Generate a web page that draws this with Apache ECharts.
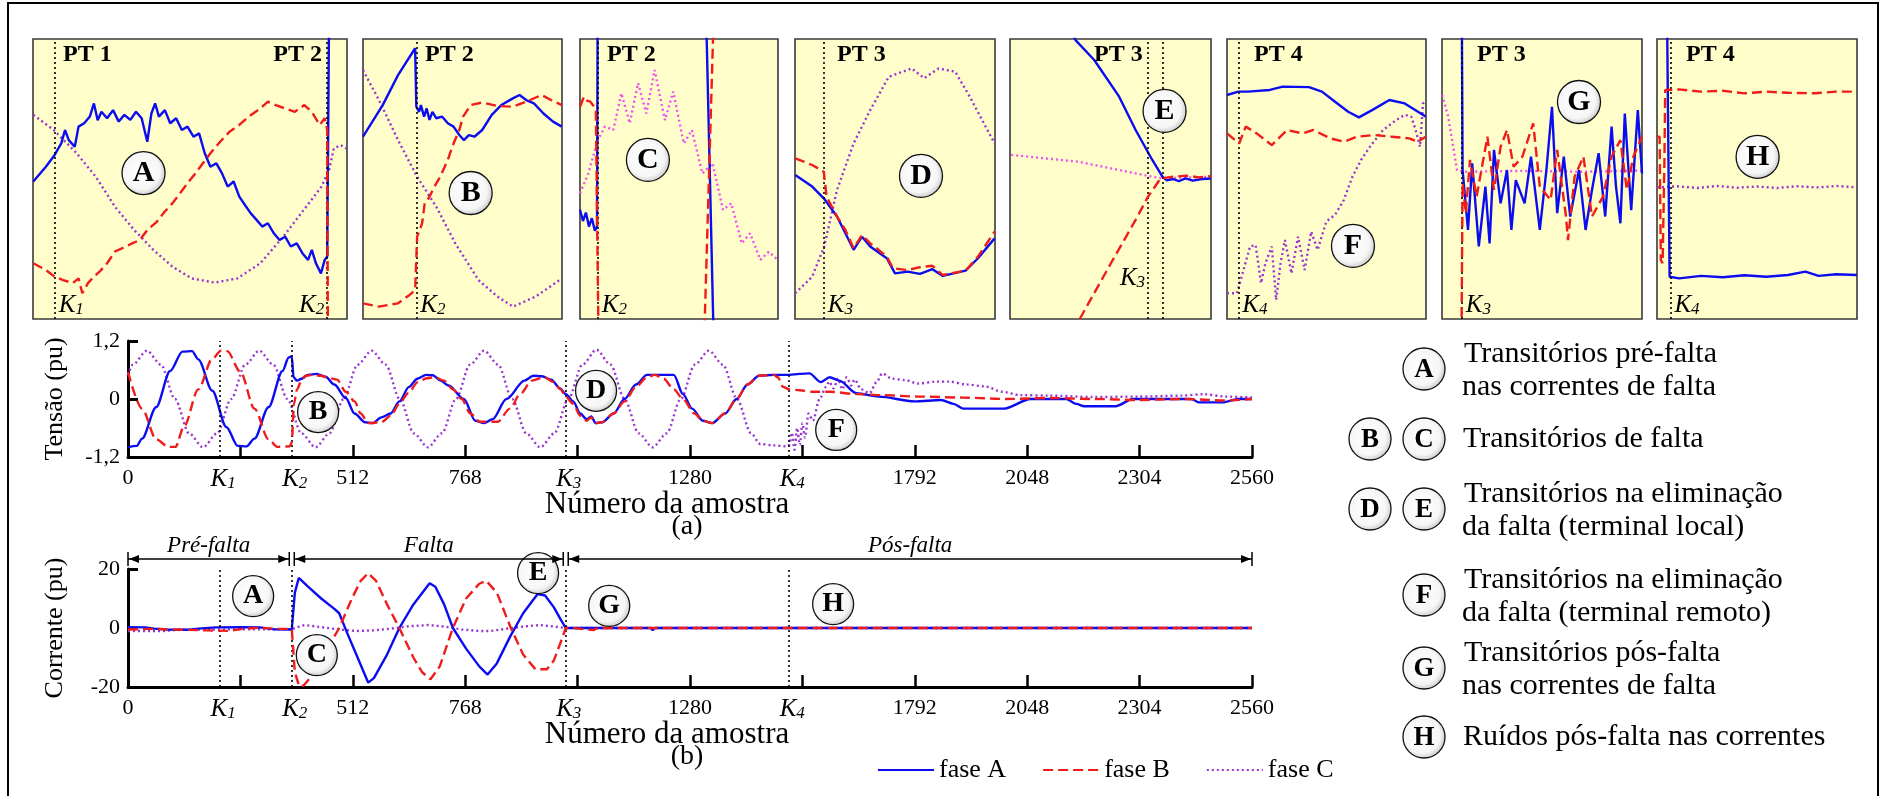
<!DOCTYPE html>
<html>
<head>
<meta charset="utf-8">
<script src="https://cdn.jsdelivr.net/npm/echarts@6/dist/echarts.min.js"></script>
<style>
  html, body { margin: 0; padding: 0; background: #fff; }
  #chart { width: 1883px; height: 796px; }
</style>
</head>
<body>
<div id="chart"></div>
<script>
// ---------------------------------------------------------------
// Data: sample index (0..2560) and per-unit values
// ---------------------------------------------------------------
const K = { K1: 210, K2: 373, K3: 997, K4: 1506 };
const xTickLabels = [0, 512, 768, 1280, 1792, 2048, 2304, 2560];

// Tensão (pu) – fases A, B, C
const vA = [[0,-1.0],[20,-0.97],[32,-0.82],[64,-0.17],[96,0.58],[124,0.98],[146,0.99],[160,0.82],[192,0.17],[224,-0.58],[250,-0.97],[270,-0.98],[288,-0.82],[320,-0.17],[352,0.58],[366,0.86],[373,0.88],
  [377,0.45],[385,0.38],[395,0.42],[410,0.5],[430,0.52],[450,0.46],[470,0.3],[496,0.02],[516,-0.3],[540,-0.48],[557,-0.5],[577,-0.38],[598,-0.3],[618,-0.05],[640,0.25],[659,0.42],[679,0.5],[694,0.49],[712,0.38],[730,0.28],[765,0.0],[791,-0.45],[811,-0.5],[830,-0.42],[862,0.0],[903,0.38],[923,0.48],[943,0.47],[964,0.4],[984,0.22],[997,0.1],
  [1014,-0.05],[1030,-0.3],[1045,-0.42],[1055,-0.36],[1065,-0.5],[1080,-0.48],[1106,-0.3],[1131,0.0],[1157,0.3],[1182,0.5],[1243,0.5],[1264,0.1],[1285,-0.2],[1309,-0.45],[1330,-0.5],[1360,-0.3],[1386,0.0],[1411,0.3],[1437,0.48],[1471,0.5],[1506,0.5],[1530,0.52],[1552,0.53],[1578,0.35],[1598,0.45],[1620,0.38],[1659,0.12],[1710,0.05],[1791,-0.05],[1852,-0.02],[1880,-0.1],[1903,-0.2],[1994,-0.2],[2056,0.0],[2137,0.0],[2160,-0.1],[2178,-0.15],[2249,-0.15],[2289,0.0],[2422,0.0],[2440,-0.07],[2493,-0.07],[2530,0.0],[2560,0.0]];
const vB = [[0,0.56],[32,-0.2],[64,-0.83],[92,-0.99],[108,-0.99],[128,-0.56],[160,0.2],[192,0.83],[212,1.0],[226,0.99],[256,0.56],[288,-0.2],[320,-0.83],[340,-0.99],[368,-0.98],[373,-0.9],
  [378,-0.1],[385,0.2],[395,0.38],[404,0.48],[420,0.5],[440,0.48],[460,0.43],[476,0.4],[496,0.15],[516,-0.05],[530,-0.3],[547,-0.5],[577,-0.48],[598,-0.35],[618,-0.1],[638,0.12],[660,0.35],[680,0.43],[699,0.45],[720,0.38],[740,0.2],[760,0.0],[780,-0.3],[801,-0.47],[842,-0.47],[870,-0.2],[893,0.1],[920,0.38],[948,0.45],[970,0.35],[985,0.2],[997,0.05],
  [1014,-0.1],[1030,-0.35],[1045,-0.45],[1055,-0.38],[1065,-0.5],[1080,-0.48],[1106,-0.3],[1131,-0.05],[1157,0.25],[1182,0.45],[1200,0.5],[1220,0.42],[1243,0.2],[1264,0.0],[1290,-0.3],[1309,-0.45],[1330,-0.5],[1360,-0.3],[1386,0.0],[1411,0.3],[1437,0.48],[1471,0.5],[1480,0.45],[1492,0.25],[1506,0.2],[1530,0.18],[1560,0.15],[1600,0.15],[1660,0.1],[1720,0.08],[1800,0.05],[1900,0.03],[2000,0.0],[2100,0.02],[2200,0.0],[2300,-0.02],[2400,0.0],[2500,-0.03],[2560,0.0]];
const vC = [[0,0.49],[11,0.71],[43,1.0],[75,0.71],[107,0.0],[139,-0.71],[171,-1.0],[203,-0.71],[235,0.0],[267,0.71],[299,1.0],[331,0.71],[363,0.0],[395,-0.71],[427,-1.0],[459,-0.71],[491,0.0],[523,0.71],[555,1.0],[587,0.71],[619,0.0],[651,-0.71],[683,-1.0],[715,-0.71],[747,0.0],[779,0.71],[811,1.0],[843,0.71],[875,0.0],[907,-0.71],[939,-1.0],[971,-0.71],[1003,0.0],[1035,0.71],[1067,1.02],[1099,0.71],[1131,0.0],[1163,-0.71],[1195,-1.0],[1227,-0.71],[1259,0.0],[1291,0.71],[1323,1.0],[1355,0.71],[1387,0.0],[1419,-0.71],[1440,-0.93],[1470,-0.96],[1500,-0.98],
  [1506,-0.95],[1512,-0.7],[1518,-1.05],[1524,-0.6],[1530,-0.95],[1536,-0.5],[1542,-0.8],[1550,-0.3],[1560,-0.45],[1575,0.0],[1590,0.25],[1597,0.36],[1607,0.22],[1617,0.42],[1627,0.2],[1637,0.45],[1647,0.28],[1655,0.4],[1670,0.2],[1689,0.12],[1705,0.35],[1718,0.53],[1740,0.42],[1770,0.39],[1800,0.32],[1840,0.36],[1871,0.36],[1910,0.3],[1952,0.26],[1990,0.15],[2033,0.08],[2100,0.07],[2200,0.04],[2300,0.05],[2400,0.07],[2450,0.1],[2500,0.05],[2560,0.03]];

// Corrente (pu) – fases A, B, C
const iA = [[0,0.3],[40,0.2],[60,-0.2],[90,-0.5],[140,-0.6],[160,-0.2],[200,0.2],[260,0.3],[300,0.2],[330,-0.4],[373,-0.5],[380,12],[389,17],[410,14],[440,10],[470,6.5],[481,5],[500,-2],[520,-9],[547,-18.5],[560,-17],[590,-9],[618,0],[650,8],[687,15.2],[700,14],[720,8],[740,0],[770,-7],[800,-13],[819,-15.8],[840,-12],[870,-3],[900,5],[933,11.5],[950,11],[970,7],[985,3],[997,0],[1010,0],[1190,0],[1195,-0.7],[1200,0],[2560,0]];
const iB = [[0,-0.5],[60,-0.3],[100,-0.5],[180,-0.8],[230,-1.0],[260,-0.3],[300,0.1],[340,-0.3],[373,-0.3],[380,-15],[390,-19.8],[400,-19.5],[420,-16],[450,-8],[481,0],[510,10],[530,16],[547,18.6],[565,16],[590,8],[618,0],[650,-10],[670,-15],[689,-17.4],[710,-13],[740,0],[770,10],[800,15],[816,16],[840,12],[872,0],[900,-9],[928,-14],[954,-14],[970,-11],[985,-5],[997,0],[1010,0],[1060,-0.7],[1070,0],[2560,0]];
const iC = [[0,-1.0],[80,-1.0],[120,-0.6],[200,-0.5],[300,-0.4],[373,-0.4],[390,0.5],[402,1.0],[440,0.3],[480,-0.5],[520,-1.0],[560,-0.8],[600,-0.2],[640,0.6],[684,1.0],[720,0.5],[760,-0.5],[800,-1.0],[826,-1.0],[860,-0.3],[900,0.5],[938,1.0],[970,0.5],[997,0],[2560,0]];

// Trechos do ensaio
const phases = [['Pré-falta', 0, K.K2], ['Falta', K.K2, K.K3], ['Pós-falta', K.K3, 2560]];

// Marcadores nos gráficos principais: [letra, amostra, valor]
const markersV = [['B', 433, -0.27], ['D', 1066, 0.17], ['F', 1613, -0.64]];
const markersI = [['A', 285, 10.8], ['C', 430, -9.2], ['E', 934, 18.6], ['G', 1096, 7.5], ['H', 1606, 8.1]];

// Detalhes ampliados (escala local 0..100 em cada janela)
const p1A = [[0.1,49.1],[4.1,54.4],[6.9,58.6],[7.8,60.4],[9,62.7],[10.2,67.5],[11.4,63.9],[13.3,61.5],[14.5,68.7],[16.3,69.9],[18.1,72.3],[19.4,77],[20.6,71],[21.8,74],[23.6,71.7],[25.5,74.6],[27.3,70.5],[29.1,72.9],[31,71.1],[32.8,74],[34.6,71.7],[36.4,63.3],[37.7,73.4],[38.9,77],[40.1,72.3],[42,74.6],[43.7,69.9],[45.6,71.7],[47.4,67.5],[49.2,68.7],[51.1,65.1],[52.9,66.3],[54.7,59.2],[56.5,54.4],[58.4,55.6],[60.2,52],[62,47.3],[63.9,49.1],[65.7,43.7],[67.5,40.7],[69.3,37.8],[71.2,35.4],[73,33],[74.8,34.2],[76.7,30.6],[78.5,28.2],[80.3,29.4],[82.1,25.9],[84,27],[85.8,23.5],[87.6,21.1],[88.8,24.7],[90.1,19.9],[91.7,16.3],[92.9,21.1],[93.7,22.3],[94.3,110]];
const p1B = [[0.1,19.9],[4.1,17.5],[6.9,15.1],[9.6,13.9],[12.7,12.8],[14.5,14.5],[15.7,9.2],[17.5,12.8],[19.4,15.1],[21.2,16.9],[23.6,19.9],[26.1,24.1],[28.5,25.3],[31.6,27],[34,28.2],[36.4,31.8],[39.5,34.8],[41.9,38.3],[44.4,41.3],[46.8,44.9],[49.2,48.5],[51.7,52],[54.1,55.6],[56.5,59.2],[59.6,63.3],[62.6,66.9],[65.7,69.3],[68.7,72.3],[72.4,75.2],[74.8,77.6],[77.3,76.4],[80.3,75.2],[83.4,74],[86.4,76.4],[88.8,74],[91.3,69.3],[92.9,71.7],[93.7,67.5],[93.9,-5]];
const p1C = [[0.1,72.9],[6.6,67.5],[13.9,59.2],[20,50.8],[26.1,40.1],[32.2,31.8],[38.3,24.7],[44.4,18.7],[50.5,14.5],[57.8,13],[65.1,14.5],[72.4,19.9],[79.7,29.4],[87,40.1],[91.9,47.3],[94.3,53.2],[95.8,60.9],[98,62.1],[99.8,60.9]];

const p2A = [[0,65.1],[9.9,76.4],[17.6,87.1],[26.2,96.7],[26.8,75.8],[28.2,74],[29.1,76.4],[30.7,72.3],[32,75.2],[33.4,71.1],[34.9,74],[36.8,71.7],[39.7,72.3],[42.6,69.9],[45.5,68.7],[48.4,65.7],[50.7,63.9],[53.2,65.7],[56,65.1],[59.9,67.5],[64.7,72.9],[69.5,76.4],[75.3,78.8],[78.7,80],[82,78.2],[85.9,77],[90.7,73.4],[95.5,70.5],[99.9,68.7]];
const p2B = [[0,5.6],[8,4.4],[17.6,5.6],[23.4,8.6],[26.2,10.4],[27.2,29.4],[28.5,31.8],[29.7,34.2],[31,41.3],[33,43.1],[35.9,47.3],[38.8,50.8],[42.6,56.8],[45.5,62.7],[48.4,67.5],[50.3,72.3],[54.1,76.4],[59.9,77.3],[67.6,76.1],[75.3,75.8],[82,77.6],[89.7,80],[94.5,78.2],[99.9,76.4]];
const p2C = [[0,88.9],[8,78.2],[17.6,63.9],[27.2,50.8],[36.8,40.1],[46.4,27],[58,13.9],[67.6,8],[75.3,4.4],[86.8,8],[99.9,14.5]];

const p3A = [[0,39],[1.5,35],[3,38],[4.5,33],[6,36],[7.5,31.5],[8.6,33],[9,130],[63,130],[67.6,-10]];
const p3B = [[0,75.8],[2,79.4],[3.5,78],[5.2,77.6],[7,76],[8,74.6],[9.4,-10],[62.6,-10],[67.6,110]];
const p3C = [[0,44.9],[4.2,52],[9,63.9],[12.6,68.7],[16.8,67.5],[20.9,80.6],[25.1,69.9],[29.3,84.2],[33.5,73.4],[37.7,88.9],[42.9,71],[47.1,81.2],[52.4,62.7],[56.5,67.5],[61.8,52],[67,55.6],[72.2,39],[76.4,41.3],[81.7,27],[85.9,30.6],[91.1,21.1],[95.3,24],[100,21.1]];

const p4A = [[0.1,51.4],[8.6,47.3],[14.4,43.1],[21,36.6],[25.2,30.6],[29.3,24.7],[33.5,29.4],[37.6,25.9],[45.9,21.7],[50,16.3],[56.3,16.9],[62.5,16.1],[68.7,17.8],[73.9,15.4],[85.3,17.3],[91.5,21.7],[99.8,28.8]];
const p4B = [[0.1,57.4],[8.6,55],[14.4,52.6],[15.8,43.7],[21,36.6],[25.2,31.8],[29.3,25.3],[33.5,30],[37.6,27],[39.7,25.9],[45.9,22.3],[49,18.1],[56.3,17.5],[62.5,18.5],[68.7,19],[73.9,15.7],[85.3,17.3],[91.5,22.3],[99.8,31.2]];
const p4C = [[0.1,9.2],[8.6,15.1],[14.6,25.9],[21,46.1],[29.3,62.7],[37.6,74.6],[46.9,86.5],[58.3,89.5],[64.6,86],[71.8,89.5],[80.1,88.3],[87.4,79.4],[93.6,71],[99.8,62.7]];

const p5A = [[30.5,103],[32.6,99.6],[41.9,92.5],[54.3,79.4],[62.5,67.5],[70.8,56.8],[75.9,50.8],[78,49.5],[81.1,50],[84,49.2],[87.3,50.2],[91,49.4],[95.5,50],[100,50.2]];
const p5B = [[34.7,0],[50.2,19.9],[62.5,35.4],[68.7,43.7],[74.9,50.2],[81.1,50.8],[88,51.2],[94,50.6],[100,51]];
const p5C = [[0.6,58.6],[33.7,56.2],[54.3,53.2],[70.8,50.8],[75.9,50.2],[100,50.8]];

const p6A = [[0,80],[5.7,81.2],[10.5,81.2],[21.5,81.8],[28,83],[41.2,82.8],[47.7,81.2],[54.3,77.6],[60.9,74],[66.3,72],[72.9,74.6],[81.6,78.2],[89.3,77],[99.8,72.3]];
const p6B = [[0,66.3],[6.1,62.7],[9.4,68.7],[14.9,66.3],[22.5,62.1],[30.2,67.5],[37.9,66.3],[43.3,67.5],[52.1,64.5],[58.7,63.3],[65.2,65.1],[74,65.7],[82.7,65.1],[91.5,64.5],[95.9,63.3],[99.8,65.1]];
const p6C = [[0,9.2],[5,9.2],[8.3,17.5],[11.6,25.9],[14.4,26.4],[17.1,12.8],[19.3,19.9],[22.5,25.9],[24.7,6.8],[26.9,19.9],[29.1,28.2],[32.4,16.3],[35.7,29.4],[39,17.5],[42.3,31.2],[45.5,24.7],[49.9,34.8],[54.3,37.2],[58.7,42.5],[63,50.8],[67.4,56.8],[71.8,61.5],[78.4,67.5],[84.9,71],[89.3,72.9],[92.6,72.3],[94.8,67.5],[97,61.5],[98.5,77],[99.8,77.6]];

const p7A = [[9.9,110],[10.3,53.2],[13,31.8],[15.1,55.6],[18.4,25.9],[21.7,47.3],[23.8,27],[26,60.4],[29.3,41.3],[32.5,53.2],[34.7,31.8],[36.9,49.6],[41.3,41.3],[44.5,58],[48.9,31.8],[52.2,53.2],[55,75.8],[57.6,37.8],[60.9,58],[64.1,36.6],[68.5,53.2],[71.8,31.8],[75,46.1],[78.3,59.2],[81.6,36.6],[84.8,68.7],[87,47.3],[89.2,34.2],[91.4,73.4],[94.6,38.9],[97.9,74.6],[100,52]];
const p7B = [[9.7,-10],[10.3,48.5],[11.9,37.8],[14,56.8],[17.3,43.7],[22.7,65.1],[26,46.1],[29.3,61.5],[32.5,67.5],[35.8,54.4],[40.2,58],[45.6,69.9],[48.9,47.3],[54.3,42.5],[57.6,60.4],[62,36.6],[63,28.2],[66.3,50.8],[70.7,58],[75,36.6],[80.5,43.7],[84.8,58],[89.2,63.9],[92.4,46.1],[95.7,58],[100,65.1]];
const p7C = [[0.1,80],[3.1,72.3],[7.5,53.2],[10.8,52.6],[40,52.9],[70,52.6],[100,53]];

const p8A = [[5,110],[6.3,15.1],[11.1,14.5],[22,15.4],[32.9,14.9],[43.8,15.6],[54.6,15.1],[65.5,15.7],[74.2,16.9],[80.8,15.4],[89.5,16],[99.9,15.7]];
const p8B = [[0,65.1],[1.3,65.1],[1.9,21.1],[2.8,19.9],[3.7,55.6],[4.1,81.8],[11.1,82],[22,81.2],[32.9,81.5],[43.8,80.6],[54.6,81.2],[65.5,80.8],[78.6,80.6],[89.5,81.2],[99.9,81.2]];
const p8C = [[0,47],[10,47.4],[20,46.8],[30,47.5],[40,46.9],[50,47.3],[60,46.8],[70,47.4],[80,47],[90,47.5],[100,47]];

// Instantes K em cada janela (escala local) e marcadores circulares
const insetK = [[[6.9,'1'],[93.7,'2']], [[26.8,'2']], [[9,'2']], [[14.4,'3']], [[68.7,'3'],[75.9,null]], [[5.7,'4']], [[9.9,'3']], [[6.7,'4']]];
const insetMarks = [['A',35.2,52.1],['B',54.1,45],['C',34.3,56.8],['D',63,51.1],['E',76.9,74.3],['F',63.3,26.1],['G',68.5,77.5],['H',50.3,57.9]];
const insetTitles = [['PT 1','PT 2'], ['PT 2'], ['PT 2'], ['PT 3'], ['PT 3'], ['PT 4'], ['PT 3'], ['PT 4']];
const insetSeries = [[p1A,p1B,p1C],[p2A,p2B,p2C],[p3A,p3B,p3C],[p4A,p4B,p4C],[p5A,p5B,p5C],[p6A,p6B,p6C],[p7A,p7B,p7C],[p8A,p8B,p8C]];
const insetMagentaC = [false, false, true, false, true, false, true, false];

// Legenda lateral
const notes = [
  { letters: ['A'],      lines: ['Transitórios pré-falta', 'nas correntes de falta'] },
  { letters: ['B', 'C'], lines: ['Transitórios de falta'] },
  { letters: ['D', 'E'], lines: ['Transitórios na eliminação', 'da falta (terminal local)'] },
  { letters: ['F'],      lines: ['Transitórios na eliminação', 'da falta (terminal remoto)'] },
  { letters: ['G'],      lines: ['Transitórios pós-falta', 'nas correntes de falta'] },
  { letters: ['H'],      lines: ['Ruídos pós-falta nas correntes'] }
];

// ---------------------------------------------------------------
// Layout and styles
// ---------------------------------------------------------------
const SERIF = '"Liberation Serif", "Times New Roman", serif';
const COLORS = { A: '#0C0CF0', B: '#F01C1C', C: '#9A34D0', M: '#F050F0' };
const DASH = { A: 'solid', B: [10, 5], C: [2, 3] };

const mainGrids = [
  { left: 128, top: 341, width: 1124, height: 116 },
  { left: 128, top: 569, width: 1124, height: 118 }
];
const insetBoxes = [
  { left: 33, width: 314 }, { left: 363, width: 199 }, { left: 580, width: 198 }, { left: 795, width: 200 },
  { left: 1010, width: 201 }, { left: 1227, width: 199 }, { left: 1442, width: 200 }, { left: 1657, width: 200 }
];
const INSET_TOP = 39, INSET_H = 280;
// "PT" title offsets and K label side inside each inset
const insetTitleLayout = [[[30,'left'],[289,'right']], [[62,'left']], [[27,'left']], [[42,'left']], [[84,'left']], [[27,'left']], [[35,'left']], [[29,'left']]];
const insetKSide = [['left','right'], ['left'], ['left'], ['left'], ['right', null], ['left'], ['left'], ['left']];

const bubbleFill = new echarts.graphic.RadialGradient(0.45, 0.45, 0.6, [
  { offset: 0, color: '#ffffff' }, { offset: 0.7, color: '#f6f6f6' }, { offset: 1, color: '#bdbdbd' }
]);

function lineSeries(name, data, axis, phase, opts) {
  const color = (opts && opts.color) || COLORS[phase];
  return Object.assign({
    type: 'line', name: name, data: data, xAxisIndex: axis, yAxisIndex: axis,
    symbol: 'none', showSymbol: false, silent: true, clip: true,
    lineStyle: { color: color, width: 2.4, type: DASH[phase] },
    itemStyle: { color: color }
  }, opts || {});
}
function kMarkLine(values) {
  return {
    silent: true, symbol: ['none', 'none'], label: { show: false },
    lineStyle: { color: '#000', width: 1.6, type: [2, 3] },
    data: values.map(v => ({ xAxis: v }))
  };
}
function bubbleSeries(data, axis, size, font) {
  return {
    type: 'scatter', data: data, xAxisIndex: axis, yAxisIndex: axis, silent: true, z: 10,
    symbol: 'circle', symbolSize: size,
    itemStyle: { color: bubbleFill, borderColor: '#111', borderWidth: 1.3, opacity: 1 },
    label: { show: true, position: 'inside', formatter: p => p.data[2],
             fontFamily: SERIF, fontWeight: 'bold', fontSize: font, color: '#000' }
  };
}

const grids = [], xAxes = [], yAxes = [], series = [];

// Main plots (a) tensão, (b) corrente
const yCfg = [
  { min: -1.2, max: 1.2, interval: 1.2, name: 'Tensão (pu)' },
  { min: -20, max: 20, interval: 20, name: 'Corrente (pu)' }
];
mainGrids.forEach((g, i) => {
  grids.push(Object.assign({ outerBoundsMode: 'none', containLabel: false }, g));
  xAxes.push({
    gridIndex: i, type: 'value', min: 0, max: 2560, interval: 256,
    axisLine: { onZero: false, lineStyle: { color: '#000', width: 3 } },
    axisTick: { inside: true, length: 12, lineStyle: { color: '#000', width: 2.5 } },
    axisLabel: { margin: 10, fontFamily: SERIF, fontSize: 22, color: '#000',
                 formatter: v => xTickLabels.indexOf(v) >= 0 ? String(v) : '' },
    splitLine: { show: false }
  });
  yAxes.push({
    gridIndex: i, type: 'value', min: yCfg[i].min, max: yCfg[i].max, interval: yCfg[i].interval,
    name: yCfg[i].name, nameLocation: 'middle', nameGap: 60, nameRotate: 90,
    nameTextStyle: { fontFamily: SERIF, fontSize: 26, color: '#000' },
    axisLine: { onZero: false, lineStyle: { color: '#000', width: 3 } },
    axisTick: { inside: true, length: 10, lineStyle: { color: '#000', width: 3 } },
    axisLabel: { margin: 8, fontFamily: SERIF, fontSize: 22, color: '#000',
                 formatter: v => String(v).replace('.', ',') },
    splitLine: { show: false }
  });
});

const kAll = [K.K1, K.K2, K.K3, K.K4];
series.push(lineSeries('fase A', vA, 0, 'A', { smooth: 0.3, smoothMonotone: 'x', markLine: kMarkLine(kAll), z: 4 }));
series.push(lineSeries('fase B', vB, 0, 'B', { smooth: 0.3, smoothMonotone: 'x', z: 5 }));
series.push(lineSeries('fase C', vC, 0, 'C', { smooth: 0.3, smoothMonotone: 'x', z: 3 }));
series.push(lineSeries('fase A', iA, 1, 'A', { markLine: kMarkLine(kAll), z: 4 }));
series.push(lineSeries('fase B', iB, 1, 'B', { z: 5 }));
series.push(lineSeries('fase C', iC, 1, 'C', { z: 3 }));
series.push(bubbleSeries(markersV.map(m => [m[1], m[2], m[0]]), 0, 41, 28));
series.push(bubbleSeries(markersI.map(m => [m[1], m[2], m[0]]), 1, 41, 28));

// Inset windows
insetBoxes.forEach((b, j) => {
  const ax = 2 + j;
  grids.push({ left: b.left, top: INSET_TOP, width: b.width, height: INSET_H, show: true,
               backgroundColor: '#FFFECA', borderColor: '#3a3a3a', borderWidth: 1.6, outerBoundsMode: 'none' });
  xAxes.push({ gridIndex: ax, type: 'value', min: 0, max: 100, show: false });
  yAxes.push({ gridIndex: ax, type: 'value', min: 0, max: 100, show: false });
  const [sa, sb, sc] = insetSeries[j];
  series.push(lineSeries('', sa, ax, 'A', { z: 4, markLine: kMarkLine(insetK[j].map(k => k[0])) }));
  series.push(lineSeries('', sb, ax, 'B', { z: 5 }));
  series.push(lineSeries('', sc, ax, 'C', insetMagentaC[j] ? { z: 3, color: COLORS.M } : { z: 3 }));
  const m = insetMarks[j];
  series.push(bubbleSeries([[m[1], m[2], m[0]]], ax, 43, 30));
});

const chart = echarts.init(document.getElementById('chart'), null, { renderer: 'canvas' });
chart.setOption({
  animation: false,
  backgroundColor: '#ffffff',
  grid: grids, xAxis: xAxes, yAxis: yAxes, series: series,
  legend: {
    data: ['fase A', 'fase B', 'fase C'], left: 872, top: 752, itemWidth: 56, itemHeight: 20, itemGap: 36,
    selectedMode: false, textStyle: { fontFamily: SERIF, fontSize: 26, color: '#000' },
    // show only the line sample of each phase
    itemStyle: { color: 'rgba(0,0,0,0)', borderColor: 'rgba(0,0,0,0)', borderWidth: 0, opacity: 0 }
  }
});

// ---------------------------------------------------------------
// Text and annotation overlay placed through the axes
// ---------------------------------------------------------------
const kRich = {
  k: { fontFamily: SERIF, fontStyle: 'italic', fontSize: 25, color: '#000', lineHeight: 26 },
  s: { fontFamily: SERIF, fontStyle: 'italic', fontSize: 17, color: '#000', lineHeight: 14, verticalAlign: 'bottom' }
};
function kText(n, x, y, align) {
  return { type: 'text', x: x, y: y, silent: true, z: 20,
           style: { text: '{k|K}{s|' + n + '}', rich: kRich, align: align || 'center', verticalAlign: 'middle' } };
}
function plainText(text, x, y, font, align, vAlign, extra) {
  return { type: 'text', x: x, y: y, silent: true, z: 20,
           style: Object.assign({ text: text, fontFamily: SERIF, fontSize: font, fill: '#000',
                                  align: align || 'center', verticalAlign: vAlign || 'middle' }, extra || {}) };
}

const gfx = [];
// outer frame
gfx.push({ type: 'rect', silent: true, z: 1, shape: { x: 8, y: 3, width: 1870, height: 840 },
           style: { fill: 'none', stroke: '#000', lineWidth: 2 } });

// K labels below the main axes, axis titles and captions
[0, 1].forEach(gi => {
  const g = mainGrids[gi];
  const yb = g.top + g.height;
  [['1', K.K1], ['2', K.K2], ['3', K.K3], ['4', K.K4]].forEach(([n, v]) => {
    const px = chart.convertToPixel({ gridIndex: gi }, [v, 0])[0];
    gfx.push(kText(n, px + 3, yb + 22));
  });
  gfx.push(plainText('Número da amostra', g.left + g.width / 2 - 23, yb + 48, 31));
  gfx.push(plainText(gi === 0 ? '(a)' : '(b)', g.left + g.width / 2 - 3, yb + 70, 28));
});

// Pré-falta / Falta / Pós-falta arrows above the current plot
const ay = mainGrids[1].top - 10;
phases.forEach(([label, a, b]) => {
  const x1 = chart.convertToPixel({ gridIndex: 1 }, [a, 0])[0] + (a === 0 ? 0 : 2.5);
  const x2 = chart.convertToPixel({ gridIndex: 1 }, [b, 0])[0] - (b === 2560 ? 0 : 2.5);
  gfx.push({ type: 'line', silent: true, z: 20, shape: { x1: x1, y1: ay, x2: x2, y2: ay }, style: { stroke: '#000', lineWidth: 1.3 } });
  gfx.push({ type: 'line', silent: true, z: 20, shape: { x1: x1, y1: ay - 7, x2: x1, y2: ay + 7 }, style: { stroke: '#000', lineWidth: 1.5 } });
  gfx.push({ type: 'line', silent: true, z: 20, shape: { x1: x2, y1: ay - 7, x2: x2, y2: ay + 7 }, style: { stroke: '#000', lineWidth: 1.5 } });
  gfx.push({ type: 'polygon', silent: true, z: 20, shape: { points: [[x1 + 1, ay], [x1 + 11, ay - 4], [x1 + 11, ay + 4]] }, style: { fill: '#000' } });
  gfx.push({ type: 'polygon', silent: true, z: 20, shape: { points: [[x2 - 1, ay], [x2 - 11, ay - 4], [x2 - 11, ay + 4]] }, style: { fill: '#000' } });
  gfx.push(plainText(label, (x1 + x2) / 2, ay - 13, 23, 'center', 'middle', { fontStyle: 'italic' }));
});

// Inset titles and K labels
insetBoxes.forEach((b, j) => {
  const ax = 2 + j;
  insetTitles[j].forEach((t, q) => {
    const [off, side] = insetTitleLayout[j][q];
    gfx.push(plainText(t, b.left + off, INSET_TOP + 16, 24, side, 'middle', { fontWeight: 'bold' }));
  });
  insetK[j].forEach(([v, n], q) => {
    if (!n) return;
    const px = chart.convertToPixel({ gridIndex: ax }, [v, 0])[0];
    const side = insetKSide[j][q];
    const y = j === 4 ? INSET_TOP + INSET_H - 41 : INSET_TOP + INSET_H - 14;
    gfx.push(kText(n, side === 'left' ? px + 4 : px - 3, y, side));
  });
});

// Side legend of the circled letters
const noteY = [369, 439, 509, 595, 668, 737];
notes.forEach((n, i) => {
  const cy = noteY[i];
  n.letters.slice().reverse().forEach((L, q) => {
    const cx = 1424 - q * 54;
    gfx.push({ type: 'circle', silent: true, z: 20, shape: { cx: cx, cy: cy, r: 21 },
               style: { fill: bubbleFill, stroke: '#111', lineWidth: 1.3 } });
    gfx.push(plainText(L, cx, cy + 1, 27, 'center', 'middle', { fontWeight: 'bold' }));
  });
  if (n.lines.length === 1) {
    gfx.push(plainText(n.lines[0], 1463, cy, 30, 'left'));
  } else {
    gfx.push(plainText(n.lines[0], 1464, cy - 15, 30, 'left'));
    gfx.push(plainText(n.lines[1], 1462, cy + 18, 30, 'left'));
  }
});

chart.setOption({ graphic: gfx });
</script>
</body>
</html>
